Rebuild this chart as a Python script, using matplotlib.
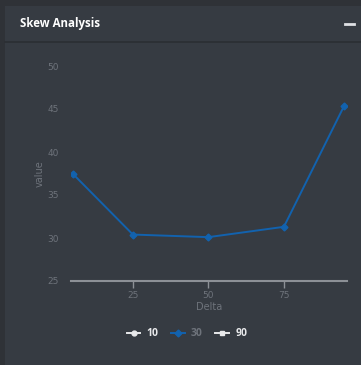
import matplotlib
matplotlib.use("Agg")
import matplotlib.pyplot as plt
from matplotlib.patches import Rectangle
from matplotlib.lines import Line2D

# Data
delta = [5, 25, 50, 75, 95]
series_30 = [37.5, 30.4, 30.1, 31.3, 45.4]
series_10 = []
series_90 = []
x_ticks = [25, 50, 75]
y_ticks = [25, 30, 35, 40, 45, 50]
title = "Skew Analysis"

W, H = 361, 365
fig = plt.figure(figsize=(W / 100, H / 100), dpi=100)
outer = "#2f3237"
card = "#363b42"
fig.patch.set_facecolor(outer)

def fx(px):
    return px / W

def fy(py):
    return 1 - py / H

fig.patches.append(Rectangle((fx(5), 0), 1 - fx(5), fy(6), transform=fig.transFigure,
                             facecolor=card, edgecolor="none", zorder=-5))
fig.lines.append(Line2D([fx(5), 1], [fy(42), fy(42)], transform=fig.transFigure,
                        color="#2b2e33", lw=1.2, zorder=-4))
fig.text(fx(20), fy(24), title, color="#ffffff", fontsize=8.3, fontweight="bold",
         family="Open Sans", va="center", ha="left")
fig.lines.append(Line2D([fx(345), fx(354)], [fy(24), fy(24)], transform=fig.transFigure,
                        color="#dfe1e4", lw=2))

ax = fig.add_axes([fx(71), fy(281), fx(347) - fx(71), fy(66) - fy(281)])
ax.set_facecolor("none")
blue = "#1262ae"
ax.plot(delta, series_30, color=blue, lw=1.4, marker="D", markersize=3.5, label="30", zorder=3)
ax.plot(series_10, series_10, color="#e8e9eb", lw=1.4, marker="o", markersize=3.5, label="10")
ax.plot(series_90, series_90, color="#e8e9eb", lw=1.4, marker="s", markersize=3.5, label="90")

ax.set_xlim(4.5, 95.9)
ax.set_ylim(25, 50)
for s in ["top", "right", "left"]:
    ax.spines[s].set_visible(False)
ax.spines["bottom"].set_color("#8c9096")
ax.spines["bottom"].set_linewidth(1.5)
ax.set_xticks(x_ticks)
ax.set_yticks(y_ticks)
ax.tick_params(axis="x", colors="#8c9096", length=5, width=1, pad=2, labelsize=6.5,
               labelcolor="#6e737b")
ax.tick_params(axis="y", length=0, pad=9, labelsize=6.5, labelcolor="#6e737b")
ax.set_xlabel("Delta", color="#6e737b", fontsize=7, labelpad=2)
ax.set_ylabel("value", color="#6e737b", fontsize=7, labelpad=2)

h = {l.get_label(): l for l in ax.get_lines()}
leg = fig.legend([h["10"], h["30"], h["90"]], ["10", "30", "90"], loc="center",
                 bbox_to_anchor=(fx(187), fy(334)), ncol=3, frameon=False,
                 prop={"weight": "bold", "size": 7.5, "family": "Open Sans"},
                 handlelength=1.3, handletextpad=0.6, columnspacing=1.2)
for t, c in zip(leg.get_texts(), ["#e8e9eb", "#6e737b", "#e8e9eb"]):
    t.set_color(c)

fig.savefig("out.png", dpi=100, facecolor=fig.get_facecolor())
